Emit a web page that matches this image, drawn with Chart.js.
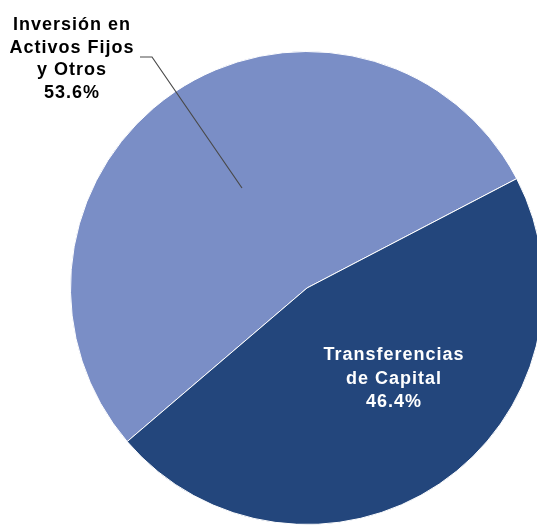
<!DOCTYPE html>
<html>
<head>
<meta charset="utf-8">
<script src="https://cdn.jsdelivr.net/npm/chart.js@4"></script>
<style>
  html, body { margin: 0; padding: 0; background: #ffffff; overflow: hidden; width: 537px; height: 525px; }
  #wrap { position: absolute; left: 0; top: 0; width: 614px; height: 576px; }
</style>
</head>
<body>
<div id="wrap"><canvas id="pieChart"></canvas></div>
<script>
// Chart data
const categories = ['Inversión en Activos Fijos y Otros', 'Transferencias de Capital'];
const shares = [53.6, 46.4];
const sliceColors = ['#7A8EC6', '#23467C'];

// Label text lines (drawn as real text by a small plugin)
const labelLines = [
    ['Inversión en', 'Activos Fijos', 'y Otros', '53.6%'],
    ['Transferencias', 'de Capital', '46.4%']
];

// Plugin that writes the slice labels and the leader line
const sliceLabels = {
    id: 'sliceLabels',
    afterDatasetsDraw(chart) {
        const ctx = chart.ctx;
        const arcs = chart.getDatasetMeta(0).data;
        const cx = arcs[0].x;
        const cy = arcs[0].y;
        ctx.save();
        ctx.font = 'bold 18px "Liberation Sans", Arial, sans-serif';
        ctx.letterSpacing = '1px';
        ctx.textAlign = 'center';
        ctx.textBaseline = 'alphabetic';

        // outside label for the light slice, with leader line
        ctx.strokeStyle = '#4a4a4a';
        ctx.lineWidth = 1.2;
        ctx.beginPath();
        ctx.moveTo(cx - 167, cy - 231);
        ctx.lineTo(cx - 155, cy - 231);
        ctx.lineTo(cx - 65, cy - 100);
        ctx.stroke();

        ctx.fillStyle = '#000000';
        labelLines[0].forEach(function(line, i) {
            ctx.fillText(line, 72, 30 + i * 22.7);
        });

        // inside label for the dark slice
        ctx.fillStyle = '#ffffff';
        labelLines[1].forEach(function(line, i) {
            ctx.fillText(line, cx + 87, cy + 72 + i * 23.5);
        });
        ctx.restore();
    }
};

const chart = new Chart(document.getElementById('pieChart'), {
    type: 'pie',
    data: {
        labels: categories,
        datasets: [{
            data: shares,
            backgroundColor: sliceColors,
            borderColor: '#ffffff',
            borderWidth: 1
        }]
    },
    options: {
        responsive: true,
        maintainAspectRatio: false,
        animation: false,
        rotation: 229.5,
        layout: { padding: 51 },
        plugins: {
            legend: { display: false },
            tooltip: { enabled: false }
        }
    },
    plugins: [sliceLabels]
});
</script>
</body>
</html>
